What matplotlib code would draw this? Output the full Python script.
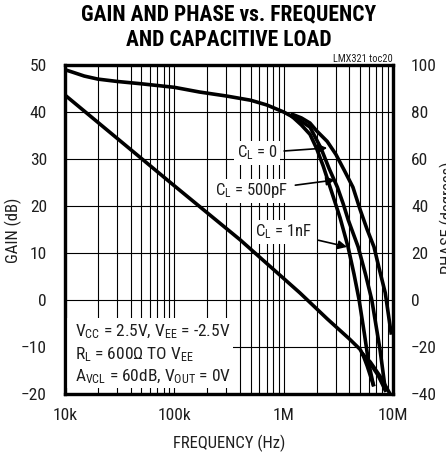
import numpy as np
import matplotlib
matplotlib.use("Agg")
import matplotlib.pyplot as plt
from matplotlib import font_manager
from matplotlib.patches import Rectangle
from matplotlib.ticker import LogLocator, NullFormatter

# pick a condensed face that is installed
have = {f.name for f in font_manager.fontManager.ttflist}
narrow = next((n for n in ['Roboto Condensed', 'Liberation Sans Narrow', 'Barlow Semi Condensed',
                           'Fira Sans Condensed', 'Archivo Narrow', 'DejaVu Sans'] if n in have), 'DejaVu Sans')
plt.rcParams['font.family'] = [narrow, 'DejaVu Sans']
plt.rcParams['mathtext.fontset'] = 'custom'
plt.rcParams['mathtext.rm'] = narrow
plt.rcParams['mathtext.it'] = narrow

TXT = '#1e1e1e'

# phase (degrees), shared part below ~1.2MHz
phase_f = [10e3, 12e3, 15e3, 20e3, 30e3, 50e3, 100e3, 170e3, 300e3, 500e3, 700e3, 1.0e6, 1.2e6]
phase_v = [98, 96.8, 95.3, 94, 93, 92, 90.5, 88.5, 86.8, 85, 83, 80, 78]

phase_1n_f = [1.2e6, 1.45e6, 1.74e6, 2.0e6, 2.3e6, 2.66e6, 3.28e6, 3.88e6, 4.4e6, 4.9e6, 5.5e6, 6.0e6, 6.6e6]
phase_1n_v = [78, 74.5, 70.5, 64.5, 57, 48, 35, 22.6, 11, 0, -15, -27, -36]

phase_500p_f = [1.2e6, 1.45e6, 1.74e6, 2.19e6, 2.6e6, 3.1e6, 3.5e6, 3.9e6, 4.8e6, 5.6e6, 6.4e6, 7.6e6, 8.5e6]
phase_500p_v = [78.5, 76, 73.6, 64.7, 56, 48, 41, 34, 22.6, 11, 0, -21, -38]

phase_0_f = [1.2e6, 1.45e6, 1.74e6, 2.0e6, 2.5e6, 3.0e6, 3.6e6, 4.3e6, 5.0e6, 5.8e6, 6.7e6, 7.6e6, 8.5e6, 9.6e6]
phase_0_v = [79, 77.5, 75.3, 72, 67.5, 62, 55, 48, 38.5, 30, 22.6, 12, 3, -14]

# gain (dB)
gain_f = [10e3, 100e3, 400e3, 1.41e6, 2.5e6, 4.0e6, 5.0e6, 5.3e6]
gain_v = [43.6, 24.3, 12.8, 1.5, -4, -8.3, -10.5, -11.6]

gain_1n_f = [5.3e6, 5.8e6, 6.6e6]
gain_1n_v = [-11.6, -14, -18]
gain_500p_f = [5.3e6, 6.2e6, 7.3e6, 8.5e6]
gain_500p_v = [-11.6, -13.5, -16, -19.2]
gain_0_f = [5.3e6, 6.2e6, 7.6e6, 9.2e6]
gain_0_v = [-11.6, -13.2, -16.2, -19.6]

xticks = [1e4, 1e5, 1e6, 1e7]
xlabels = ['10k', '100k', '1M', '10M']
gain_ticks = [-20, -10, 0, 10, 20, 30, 40, 50]
phase_ticks = [-40, -20, 0, 20, 40, 60, 80, 100]

fig = plt.figure(figsize=(4.46, 4.58), dpi=100)
ax = fig.add_axes([65/446, 1-394/458, 328/446, 329/458])
ax2 = ax.twinx()

ax.set_xscale('log')
ax.set_xlim(1e4, 1e7)
ax.set_ylim(-20, 50)
ax2.set_ylim(-40, 100)

ax.set_xticks(xticks)
ax.set_xticklabels(xlabels)
ax.xaxis.set_minor_locator(LogLocator(base=10, subs=np.arange(2, 10)))
ax.xaxis.set_minor_formatter(NullFormatter())
ax.set_yticks(gain_ticks)
ax2.set_yticks(phase_ticks)

ax.grid(True, which='both', axis='x', color='black', lw=0.8)
ax.grid(True, which='major', axis='y', color='black', lw=0.8)

ax.tick_params(which='both', length=0, labelsize=12.5, labelcolor=TXT)
ax.tick_params(axis='x', pad=10)
ax.tick_params(axis='y', pad=13)
ax2.tick_params(which='both', length=0, labelsize=12.5, labelcolor=TXT, pad=13)

for a in (ax, ax2):
    for s in a.spines.values():
        s.set_linewidth(2.3)

lw = 2.6
ax.plot(gain_f, gain_v, color='black', lw=lw)
ax.plot(gain_1n_f, gain_1n_v, color='black', lw=lw)
ax.plot(gain_500p_f, gain_500p_v, color='black', lw=lw)
ax.plot(gain_0_f, gain_0_v, color='black', lw=lw)

ax2.plot(phase_f, phase_v, color='black', lw=lw, zorder=4)
ax2.plot(phase_1n_f, phase_1n_v, color='black', lw=lw, zorder=4)
ax2.plot(phase_500p_f, phase_500p_v, color='black', lw=lw, zorder=4)
ax2.plot(phase_0_f, phase_0_v, color='black', lw=lw, zorder=4)

box = dict(facecolor='white', edgecolor='none', pad=2)
arrow = dict(arrowstyle='-|>', color='black', lw=1.2, mutation_scale=13, shrinkA=3, shrinkB=0)

ax2.annotate('C$_{\\mathrm{L}}$ = 0', xy=(2.5e6, 64.7), xytext=(5.7e5, 62.6),
             ha='center', va='center', fontsize=12, color=TXT, bbox=box,
             arrowprops=arrow, zorder=3)
ax2.annotate('C$_{\\mathrm{L}}$ = 500pF', xy=(2.95e6, 51.1), xytext=(5.1e5, 46.4),
             ha='center', va='center', fontsize=12, color=TXT, bbox=box,
             arrowprops=arrow, zorder=3)
ax2.annotate('C$_{\\mathrm{L}}$ = 1nF', xy=(3.8e6, 22.6), xytext=(9.9e5, 28.9),
             ha='center', va='center', fontsize=12, color=TXT, bbox=box,
             arrowprops=arrow, zorder=3)

# white panel behind the test conditions
ax2.add_patch(Rectangle((0.006, 0.018), 0.506, 0.213, transform=ax.transAxes,
                        facecolor='white', edgecolor='none', zorder=2))
cond = ['V$_{\\mathrm{CC}}$ = 2.5V, V$_{\\mathrm{EE}}$ = -2.5V',
        'R$_{\\mathrm{L}}$ = 600\u03a9 TO V$_{\\mathrm{EE}}$',
        'A$_{\\mathrm{VCL}}$ = 60dB, V$_{\\mathrm{OUT}}$ = 0V']
cond_y = [0.188, 0.119, 0.052]
for t, yy in zip(cond, cond_y):
    ax2.text(0.03, yy, t, transform=ax.transAxes, ha='left', va='center',
             fontsize=12.5, color=TXT, zorder=3)

fig.text(229/446, 1-14.5/458, 'GAIN AND PHASE vs. FREQUENCY', ha='center', va='center',
         fontsize=15.5, fontweight='black', color='black')
fig.text(229/446, 1-40.5/458, 'AND CAPACITIVE LOAD', ha='center', va='center',
         fontsize=15.5, fontweight='black', color='black')
fig.text(393/446, 1-59/458, 'LMX321 toc20', ha='right', va='center', fontsize=7.5, color=TXT)

fig.text(229/446, 1-443/458, 'FREQUENCY (Hz)', ha='center', va='center', fontsize=12, color=TXT)
fig.text(13/446, 1-230/458, 'GAIN (dB)', ha='center', va='center', rotation=90,
         fontsize=12, color=TXT)
fig.text(440/446, 1-218/458, 'PHASE (degrees)', ha='left', va='center', rotation=90,
         fontsize=12, color=TXT)

fig.savefig('out.png', dpi=100)
